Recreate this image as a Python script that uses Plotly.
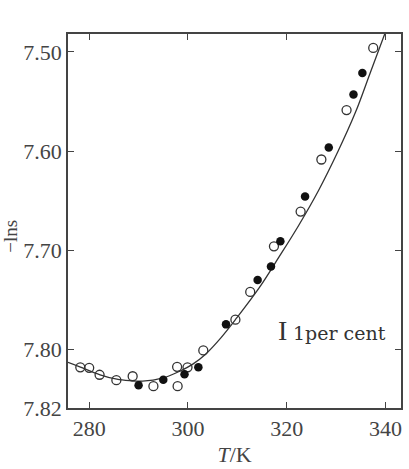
import plotly.graph_objects as go

# open circles
open_T = [278.2, 280.0, 282.1, 285.5, 288.8, 293.0, 297.9, 297.8, 299.9, 303.1,
          309.6, 312.6, 317.4, 322.8, 327.0, 332.1, 337.5]
open_y = [7.818, 7.8185, 7.8255, 7.831, 7.827, 7.837, 7.837, 7.8175, 7.818, 7.801,
          7.770, 7.742, 7.696, 7.661, 7.6085, 7.5587, 7.496]

# filled circles
fill_T = [290.0, 295.0, 299.3, 302.1, 307.7, 314.1, 316.8, 318.7, 323.7, 328.5,
          333.5, 335.3]
fill_y = [7.836, 7.8305, 7.825, 7.818, 7.7747, 7.730, 7.7163, 7.691, 7.6457, 7.5965,
          7.543, 7.5213]

# fitted curve
curve_T = [275.7, 278.1, 282.2, 285.6, 288.2, 290.8, 294.8, 298.3, 300.9, 303.5,
           306.7, 309.9, 314.4, 318.4, 322.4, 326.4, 330.4, 333.9, 336.9, 339.9]
curve_y = [7.813, 7.8175, 7.8255, 7.830, 7.8315, 7.832, 7.829, 7.822, 7.815, 7.805,
           7.788, 7.768, 7.738, 7.707, 7.675, 7.640, 7.600, 7.561, 7.521, 7.481]

x_ticks = [280, 300, 320, 340]
y_tickvals = [7.50, 7.60, 7.70, 7.80, 7.859]
y_ticktext = ["7.50", "7.60", "7.70", "7.80", "7.82"]

ink = "#333333"
serif = "Liberation Serif"

fig = go.Figure()
fig.add_trace(go.Scatter(x=curve_T, y=curve_y, mode="lines",
                         line=dict(color=ink, width=1.3, shape="spline"),
                         showlegend=False, hoverinfo="skip"))
fig.add_trace(go.Scatter(x=open_T, y=open_y, mode="markers",
                         marker=dict(symbol="circle-open", size=9, color=ink,
                                     line=dict(width=1.3, color=ink)),
                         showlegend=False))
fig.add_trace(go.Scatter(x=fill_T, y=fill_y, mode="markers",
                         marker=dict(symbol="circle", size=8.5, color="#111111",
                                     line=dict(width=0)),
                         showlegend=False))

axis_common = dict(showline=True, linecolor="#444444", linewidth=1.5, mirror="ticks",
                   ticks="inside", ticklen=6, tickwidth=1.3, tickcolor="#444444",
                   showgrid=False, zeroline=False,
                   tickfont=dict(family=serif, size=22, color="#444444"))

fig.update_layout(
    width=409, height=469,
    margin=dict(l=68, r=6, t=34, b=58),
    paper_bgcolor="white", plot_bgcolor="white",
    xaxis=dict(range=[275.71, 343.12], tickvals=x_ticks,
               title=dict(text="<i>T</i>/K", font=dict(family=serif, size=22, color="#444444"),
                          standoff=6),
               **axis_common),
    yaxis=dict(range=[7.859, 7.482], tickvals=y_tickvals, ticktext=y_ticktext,
               **axis_common),
    annotations=[
        dict(text="−lns", textangle=-90, xref="paper", yref="paper",
             x=(10 - 68) / 335, y=(411 - 238) / 377, xanchor="center", yanchor="middle",
             showarrow=False, font=dict(family=serif, size=19, color="#444444")),
        dict(text="I", xref="paper", yref="paper",
             x=(284 - 68) / 335, y=(411 - 333) / 377, xanchor="center", yanchor="middle",
             showarrow=False, font=dict(family=serif, size=28, color="#333333")),
        dict(text="1per cent", xref="paper", yref="paper",
             x=(292 - 68) / 335, y=(411 - 335) / 377, xanchor="left", yanchor="middle",
             showarrow=False, font=dict(family="DejaVu Serif", size=19, color="#333333")),
    ],
)

fig.write_html("out.html")
